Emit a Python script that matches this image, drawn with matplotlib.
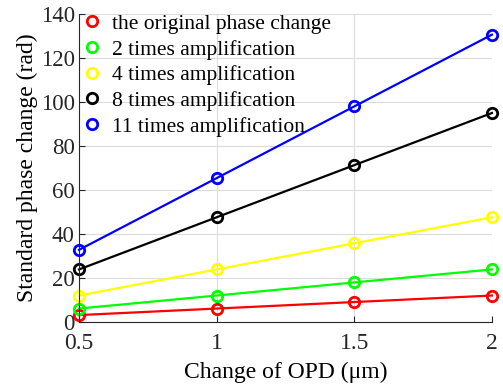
import matplotlib
matplotlib.use('Agg')
import matplotlib.pyplot as plt

# data
opd = [0.5, 1.0, 1.5, 2.0]
phase_orig = [2.96, 5.93, 8.89, 11.85]
phase_x2 = [5.93, 11.85, 17.8, 23.7]
phase_x4 = [11.85, 23.7, 35.6, 47.4]
phase_x8 = [23.7, 47.4, 71.1, 94.8]
phase_x11 = [32.6, 65.2, 97.8, 130.4]
labels = ['the original phase change', '2 times amplification', '4 times amplification',
          '8 times amplification', '11 times amplification']
xtick_labels = ['0.5', '1', '1.5', '2']

plt.rcParams['font.family'] = 'Liberation Serif'

fig = plt.figure(figsize=(5.03, 3.87), dpi=100)
ax = fig.add_axes([0.157, 0.169, 0.821, 0.796])

series = [phase_orig, phase_x2, phase_x4, phase_x8, phase_x11]
colors = ['#ff0000', '#00ff00', '#ffff00', '#000000', '#0000ff']
for ys, c, lab in zip(series, colors, labels):
    ax.plot(opd, ys, color=c, linewidth=1.6, clip_on=False)
    ax.plot(opd, ys, linestyle='none', marker='o', markersize=7.5,
            markerfacecolor='none', markeredgecolor=c, markeredgewidth=2,
            clip_on=False, label=lab)

ax.set_xlim(0.5, 2)
ax.set_ylim(0, 140)
ax.set_xticks(opd)
ax.set_xticklabels(xtick_labels)
ax.set_yticks(range(0, 141, 20))
ax.grid(True, color='#dcdcdc', linewidth=0.8)
ax.set_axisbelow(True)
for s in ['top', 'right']:
    ax.spines[s].set_visible(False)
for s in ['left', 'bottom']:
    ax.spines[s].set_color('#262626')
    ax.spines[s].set_linewidth(0.8)
ax.tick_params(direction='in', colors='#262626', length=4, width=0.8)
ax.tick_params(axis='x', pad=8, labelsize=17)
ax.tick_params(axis='y', pad=3, labelsize=16.5)

ax.set_xlabel('Change of OPD (\u03bcm)', fontsize=17, labelpad=6)
ax.set_ylabel('Standard phase change (rad)', fontsize=17, labelpad=2)

ax.legend(loc='upper left', frameon=False, fontsize=15.5, handletextpad=0.55,
          handlelength=0.8, borderaxespad=0.0, labelspacing=0.26,
          borderpad=0.3, bbox_to_anchor=(-0.005, 1.02))

plt.savefig('out.png', dpi=100)
